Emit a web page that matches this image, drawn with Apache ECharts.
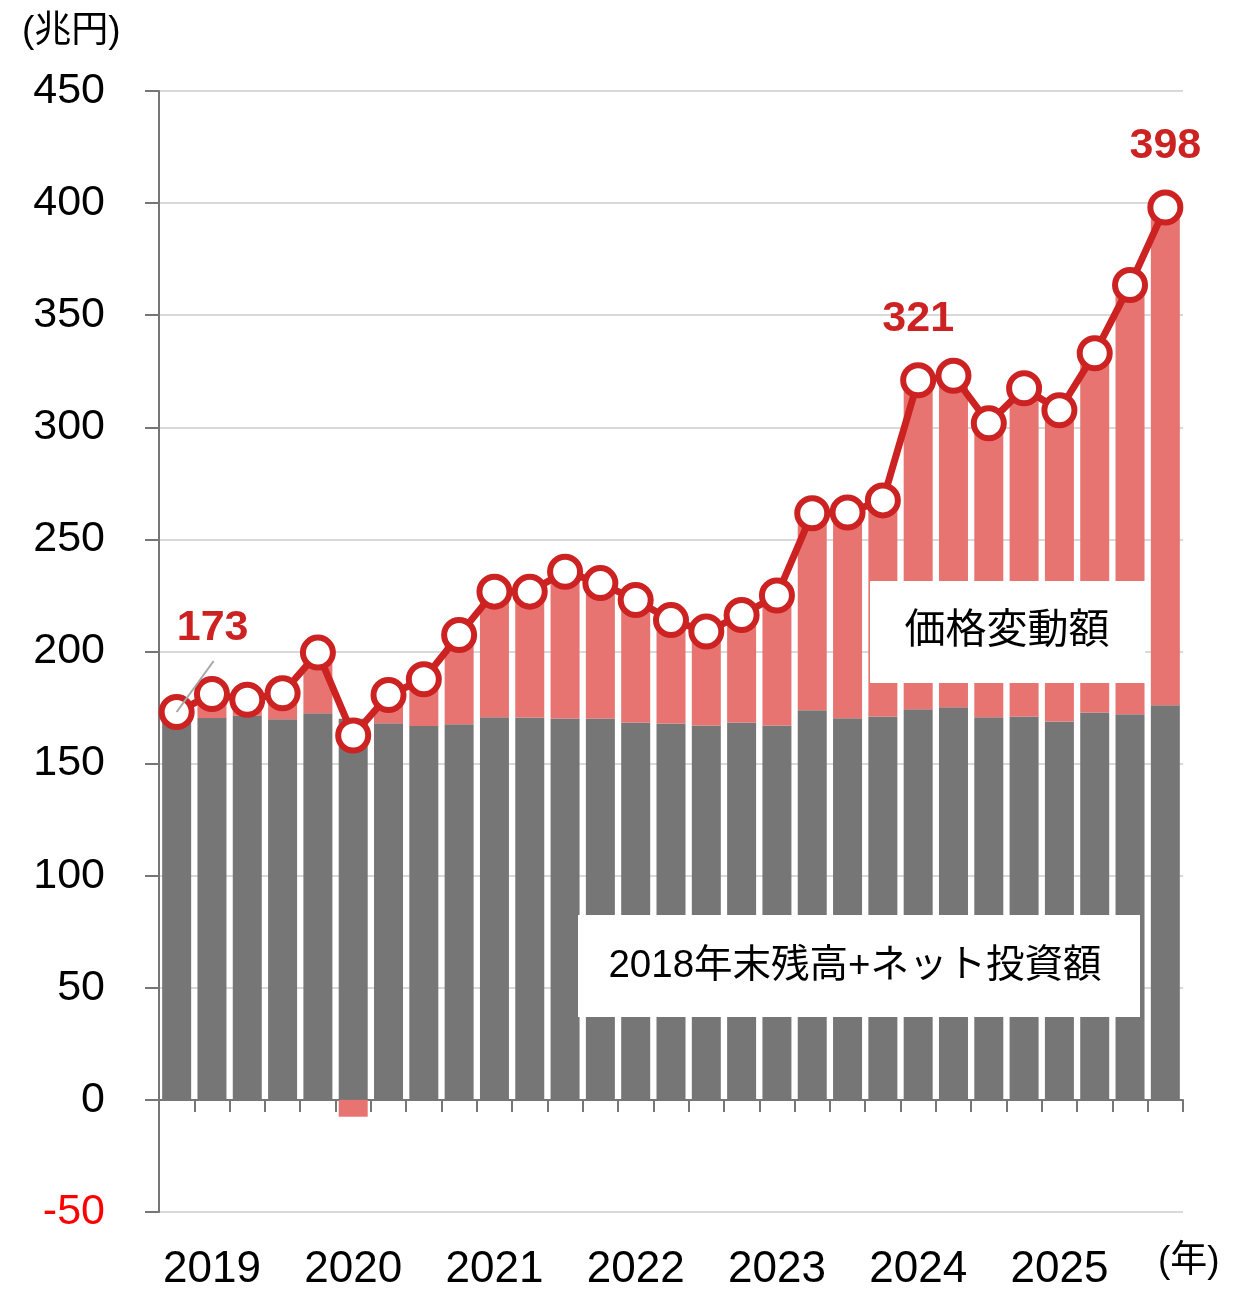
<!DOCTYPE html>
<html>
<head>
<meta charset="utf-8">
<script src="https://cdn.jsdelivr.net/npm/echarts@6/dist/echarts.min.js"></script>
<style>
html,body{margin:0;padding:0;background:#fff;}
#main{width:1239px;height:1300px;}
</style>
</head>
<body>
<div id="main"></div>
<script>
// Quarter-end categories (2018年末 + 2019Q1 .. 2025Q4)
var categories = ['2018Q4',
  '2019Q1','2019Q2','2019Q3','2019Q4',
  '2020Q1','2020Q2','2020Q3','2020Q4',
  '2021Q1','2021Q2','2021Q3','2021Q4',
  '2022Q1','2022Q2','2022Q3','2022Q4',
  '2023Q1','2023Q2','2023Q3','2023Q4',
  '2024Q1','2024Q2','2024Q3','2024Q4',
  '2025Q1','2025Q2','2025Q3','2025Q4'];

// 2018年末残高+ネット投資額 (兆円)
var baseValues = [170.5, 170.3, 171.3, 169.8, 172.5, 170, 168, 166.8, 167.6,
  170.7, 170.6, 170.1, 170.1, 168.3, 167.9, 167, 168.3, 167,
  173.8, 170.2, 171, 174.2, 175.1, 170.7, 171, 168.8, 172.8, 172, 176];

// 残高合計 (兆円)
var totalValues = [173, 181, 178.5, 181.4, 199.5, 162.5, 180.6, 187.6, 207.4,
  226.7, 226.7, 235.6, 230.5, 223, 214, 208.9, 216.3, 225,
  261.7, 262, 267.4, 321, 323, 301.8, 317.4, 307.6, 333, 363.5, 398];

// 価格変動額 = 合計 - ベース
var changeValues = totalValues.map(function (v, i) { return +(v - baseValues[i]).toFixed(1); });

var yTicks = {min: -50, max: 450, interval: 50};
var labeledPoints = [0, 21, 28];

var NUM_FONT = '"Liberation Sans", Arial, "Noto Sans CJK JP", sans-serif';
var JP_FONT = '"Liberation Sans", Arial, "Noto Sans CJK JP", sans-serif';
var RED = '#CC2222';

var chart = echarts.init(document.getElementById('main'));

var lineData = totalValues.map(function (v, i) {
  if (labeledPoints.indexOf(i) < 0) return v;
  return {
    value: v,
    label: {
      show: true, position: 'inside',
      formatter: function (p) { return Math.round(p.value); },
      color: RED, fontSize: 43, fontWeight: 'bold', fontFamily: NUM_FONT
    }
  };
});

var option = {
  animation: false,
  backgroundColor: '#fff',
  grid: {left: 159, right: 56, top: 91, bottom: 88, containLabel: false, outerBoundsMode: 'none'},
  xAxis: [
    {
      type: 'category',
      data: categories,
      boundaryGap: true,
      axisLine: {onZero: true, lineStyle: {color: '#767676', width: 2}},
      axisTick: {show: true, interval: 0, length: 12, lineStyle: {color: '#767676', width: 2}},
      axisLabel: {show: false},
      splitLine: {show: false}
    },
    {
      type: 'category',
      data: categories,
      position: 'bottom',
      boundaryGap: true,
      axisLine: {show: false, onZero: false},
      axisTick: {show: false},
      axisLabel: {
        show: true,
        interval: function (idx) { return idx % 4 === 1; },
        formatter: function (v) { return v.slice(0, 4); },
        margin: 36, fontSize: 44, color: '#000', fontFamily: NUM_FONT
      },
      splitLine: {show: false}
    }
  ],
  yAxis: {
    type: 'value',
    min: yTicks.min, max: yTicks.max, interval: yTicks.interval,
    axisLine: {show: true, lineStyle: {color: '#767676', width: 2}},
    axisTick: {show: true, length: 14, lineStyle: {color: '#767676', width: 2}},
    axisLabel: {
      margin: 54, fontSize: 43, fontFamily: NUM_FONT,
      color: function (v) { return Number(v) < 0 ? '#FF0000' : '#000'; }
    },
    splitLine: {show: true, lineStyle: {color: '#D9D9D9', width: 2}}
  },
  series: [
    {
      name: '2018年末残高+ネット投資額', type: 'bar', stack: 'a',
      data: baseValues, barWidth: 29,
      itemStyle: {color: '#767676'}
    },
    {
      name: '価格変動額', type: 'bar', stack: 'a',
      data: changeValues, barWidth: 29,
      itemStyle: {color: '#E87472'}
    },
    {
      name: '合計', type: 'line', data: lineData,
      symbol: 'circle', symbolSize: 30, showAllSymbol: true,
      lineStyle: {color: RED, width: 7},
      itemStyle: {color: '#fff', borderColor: RED, borderWidth: 6},
      labelLayout: function (params) {
        if (params.dataIndex === 0) return {dx: 36, dy: -84, hideOverlap: false};
        return {dy: -61, hideOverlap: false};
      },
      z: 5
    }
  ]
};
chart.setOption(option);

var p0 = chart.convertToPixel({seriesIndex: 2}, [0, totalValues[0]]);

chart.setOption({
  graphic: [
    {type: 'text', left: 22, top: 13, z: 100,
      style: {text: '(兆円)', fontSize: 37, fontFamily: JP_FONT, fill: '#000'}},
    {type: 'text', left: 1158, top: 1243, z: 100,
      style: {text: '(年)', fontSize: 37, fontFamily: JP_FONT, fill: '#000'}},
    {type: 'rect', z: 100, shape: {x: 870, y: 581, width: 275, height: 102}, style: {fill: '#fff'}},
    {type: 'text', z: 101, x: 1007, y: 632,
      style: {text: '価格変動額', fontSize: 41, fontFamily: JP_FONT, fill: '#000',
        textAlign: 'center', textVerticalAlign: 'middle', verticalAlign: 'middle'}},
    {type: 'rect', z: 100, shape: {x: 578, y: 915, width: 562, height: 102}, style: {fill: '#fff'}},
    {type: 'text', z: 101, x: 855, y: 966,
      style: {text: '2018年末残高+ネット投資額', fontSize: 38.5, fontFamily: JP_FONT, fill: '#000',
        textAlign: 'center', textVerticalAlign: 'middle', verticalAlign: 'middle'}},
    {type: 'line', z: 100,
      shape: {x1: p0[0], y1: p0[1], x2: p0[0] + 37, y2: p0[1] - 51},
      style: {stroke: '#A6A6A6', lineWidth: 2}}
  ]
});
</script>
</body>
</html>
